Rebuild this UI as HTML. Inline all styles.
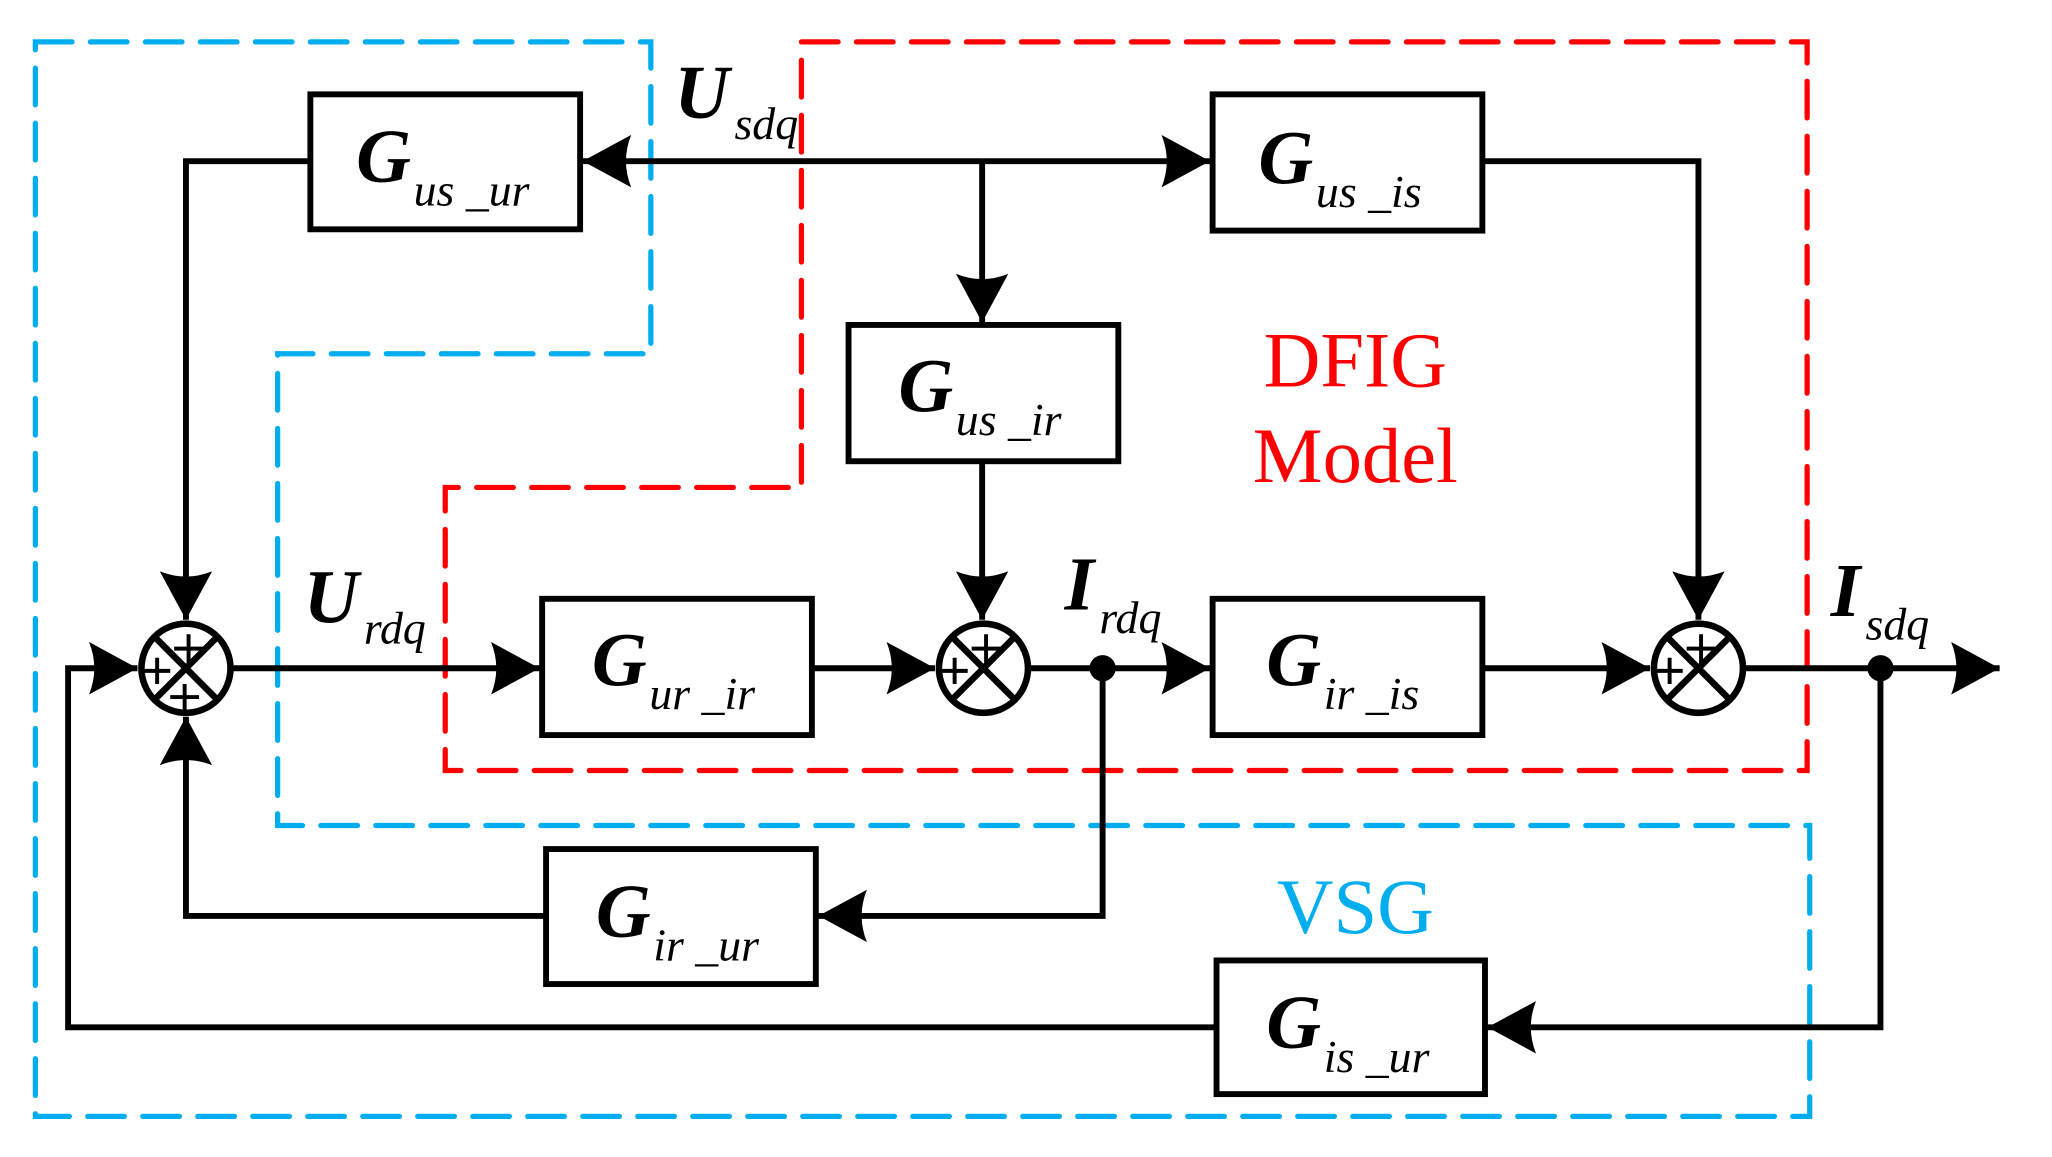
<!DOCTYPE html>
<html><head><meta charset="utf-8"><style>
html,body{margin:0;padding:0;background:#fff;}
svg{display:block;}
.g{font-family:"Liberation Serif",serif;font-style:italic;font-weight:bold;font-size:58px;}
.s{font-family:"Liberation Serif",serif;font-style:italic;font-size:35px;font-weight:normal;}
</style></head><body>
<svg width="2052" height="1157" viewBox="0 0 1567 883" preserveAspectRatio="none" xmlns="http://www.w3.org/2000/svg">
<defs>
<marker id="a" markerUnits="userSpaceOnUse" markerWidth="40" markerHeight="42" refX="37" refY="20" orient="auto">
<path d="M37,20 L0,0 Q8,20 0,40 Z" fill="#000"/>
</marker>
</defs>
<path d="M27,32 H497 V270 H212 V630 H1382 V852 H27 Z" fill="none" stroke="#00aeef" stroke-width="4" stroke-dasharray="28,14" stroke-linecap="round"/>
<path d="M612,32 H1380 V588 H340 V372 H612 Z" fill="none" stroke="#ff0000" stroke-width="4" stroke-dasharray="28,14" stroke-linecap="round"/>
<g fill="none" stroke="#000" stroke-width="4.5">
<rect x="237" y="72" width="206" height="103"/>
<rect x="926" y="72" width="206" height="104"/>
<rect x="648" y="248" width="206" height="104"/>
<rect x="414" y="457" width="206" height="104"/>
<rect x="926" y="457" width="206" height="104"/>
<rect x="417" y="648" width="206" height="103"/>
<rect x="929" y="733" width="205" height="102"/>
<path d="M750,123 H445" marker-end="url(#a)"/>
<path d="M750,123 H924" marker-end="url(#a)"/>
<path d="M750,123 V246" marker-end="url(#a)"/>
<path d="M237,123 H142 V473" marker-end="url(#a)"/>
<path d="M1132,123 H1297 V473" marker-end="url(#a)"/>
<path d="M750,352 V473" marker-end="url(#a)"/>
<path d="M177,510 H412" marker-end="url(#a)"/>
<path d="M620,510 H714" marker-end="url(#a)"/>
<path d="M786,510 H924" marker-end="url(#a)"/>
<path d="M1132,510 H1260" marker-end="url(#a)"/>
<path d="M1332,510 H1527" marker-end="url(#a)"/>
<path d="M842,510 V699 H625" marker-end="url(#a)"/>
<path d="M417,699 H142 V547" marker-end="url(#a)"/>
<path d="M1436,510 V784 H1136" marker-end="url(#a)"/>
<path d="M929,784 H52 V510 H105" marker-end="url(#a)"/>
</g>
<circle cx="842" cy="510" r="10" fill="#000"/>
<circle cx="1436" cy="510" r="10" fill="#000"/>
<g fill="#fff" stroke="#000" stroke-width="5">
<circle cx="142" cy="510" r="34"/>
<circle cx="751" cy="510" r="34"/>
<circle cx="1297" cy="510" r="34"/>
</g>
<g stroke="#000" stroke-width="5">
<path d="M118,486 L166,534 M166,486 L118,534"/>
<path d="M727,486 L775,534 M775,486 L727,534"/>
<path d="M1273,486 L1321,534 M1321,486 L1273,534"/>
</g>
<g stroke="#000" stroke-width="3">
<path d="M133,495 H155 M144,484 V506 M110,512 H130 M120,502 V522 M130,532 H152 M141,522 V542"/>
<path d="M742,495 H764 M753,484 V506 M719,512 H739 M729,502 V522"/>
<path d="M1288,495 H1310 M1299,484 V506 M1265,512 H1285 M1275,502 V522"/>
</g>
<text x="272" y="139" class="g">G<tspan class="s" dy="18" dx="2">us _ur</tspan></text>
<text x="961" y="140" class="g">G<tspan class="s" dy="18" dx="2">us _is</tspan></text>
<text x="686" y="314" class="g">G<tspan class="s" dy="18" dx="2">us _ir</tspan></text>
<text x="452" y="523" class="g">G<tspan class="s" dy="18" dx="2">ur _ir</tspan></text>
<text x="967" y="523" class="g">G<tspan class="s" dy="18" dx="2">ir _is</tspan></text>
<text x="455" y="715" class="g">G<tspan class="s" dy="18" dx="2">ir _ur</tspan></text>
<text x="967" y="800" class="g">G<tspan class="s" dy="18" dx="2">is _ur</tspan></text>
<text x="515" y="90" class="g">U<tspan class="s" dy="16" dx="4">sdq</tspan></text>
<text x="232" y="475" class="g">U<tspan class="s" dy="16" dx="4">rdq</tspan></text>
<text x="813" y="465" class="g">I<tspan class="s" dy="18" dx="4">rdq</tspan></text>
<text x="1398" y="470" class="g">I<tspan class="s" dy="18" dx="4">sdq</tspan></text>
<text x="1035" y="295" text-anchor="middle" font-family="Liberation Serif,serif" font-size="60" fill="#ff0000">DFIG</text>
<text x="1035" y="368" text-anchor="middle" font-family="Liberation Serif,serif" font-size="60" fill="#ff0000">Model</text>
<text x="1035" y="712" text-anchor="middle" font-family="Liberation Serif,serif" font-size="60" fill="#00aeef">VSG</text>
</svg>
</body></html>
